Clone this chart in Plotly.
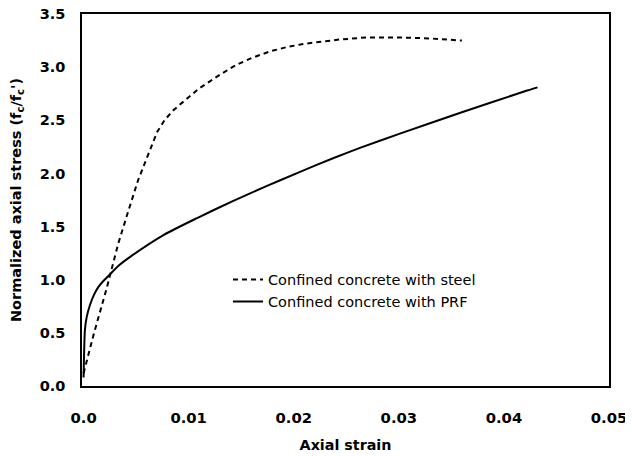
import plotly.graph_objects as go

steel_strain = [0.0, 0.001, 0.0022, 0.0033, 0.0043, 0.0052, 0.0062, 0.0070, 0.0077, 0.0085,
                0.0092, 0.0098, 0.011, 0.013, 0.0145, 0.0161, 0.0178, 0.0194, 0.021,
                0.0244, 0.027, 0.0298, 0.033, 0.036]
steel_stress = [0.12, 0.50, 0.92, 1.34, 1.66, 1.94, 2.19, 2.39, 2.50, 2.59,
                2.65, 2.70, 2.80, 2.93, 3.02, 3.09, 3.15, 3.19, 3.22,
                3.26, 3.28, 3.28, 3.27, 3.25]

prf_strain = [0.0, 0.00013, 0.0003, 0.0006, 0.001, 0.0014, 0.0019, 0.0025, 0.0033, 0.0045,
              0.0076, 0.0108, 0.0142, 0.0174, 0.0206, 0.0238, 0.0263, 0.0301, 0.0360,
              0.0422, 0.0432]
prf_stress = [0.08, 0.53, 0.65, 0.76, 0.86, 0.93, 0.99, 1.05, 1.13, 1.22,
              1.42, 1.58, 1.74, 1.88, 2.015, 2.145, 2.24, 2.375, 2.575,
              2.78, 2.81]

x_ticks = [0.0, 0.01, 0.02, 0.03, 0.04, 0.05]
x_ticktext = ["0.0", "0.01", "0.02", "0.03", "0.04", "0.05"]
y_ticks = [0.0, 0.5, 1.0, 1.5, 2.0, 2.5, 3.0, 3.5]

fig = go.Figure()
fig.add_trace(go.Scatter(x=steel_strain, y=steel_stress, mode="lines",
                         line=dict(color="black", width=2, dash="5px,4px"),
                         name="Confined concrete with steel"))
fig.add_trace(go.Scatter(x=prf_strain, y=prf_stress, mode="lines",
                         line=dict(color="black", width=2, shape="spline", smoothing=0.6),
                         name="Confined concrete with PRF"))

# page has an 8px body margin, so the figure is placed at (8, 8)
fig.update_layout(
    width=625, height=448,
    margin=dict(l=74, r=24, t=6, b=70),
    paper_bgcolor="white", plot_bgcolor="white",
    font=dict(family="DejaVu Sans", size=14, color="black"),
    showlegend=True,
    legend=dict(x=0.277, y=0.329, xanchor="left", yanchor="top",
                bgcolor="rgba(0,0,0,0)", font=dict(size=14.5, family="DejaVu Sans"),
                itemwidth=30, tracegroupgap=0),
    xaxis=dict(range=[-0.00015, 0.05], tickvals=x_ticks, ticktext=x_ticktext,
               showgrid=False, zeroline=False, showline=True, linecolor="black",
               linewidth=1.5, mirror=True, ticks="", automargin=False,
               ticklabeloverflow="allow",
               tickfont=dict(family="DejaVu Sans", size=14.8, color="black", weight="bold"),
               ticklabelstandoff=17,
               title=dict(text="<b>Axial strain</b>",
                          font=dict(family="DejaVu Sans", size=14.3, color="black"), standoff=15)),
    yaxis=dict(range=[0, 3.5], tickvals=y_ticks, tickformat=".1f",
               showgrid=False, zeroline=False, showline=True, linecolor="black",
               linewidth=1.5, mirror=True, ticks="", automargin=False,
               ticklabeloverflow="allow",
               tickfont=dict(family="DejaVu Sans", size=14.5, color="black", weight="bold"),
               ticklabelstandoff=12,
               title=dict(text="<b>Normalized axial stress (f<sub>c</sub>/f<sub>c</sub>')</b>",
                          font=dict(family="DejaVu Sans", size=14.5, color="black"), standoff=15)),
)

fig.write_html("out.html")
